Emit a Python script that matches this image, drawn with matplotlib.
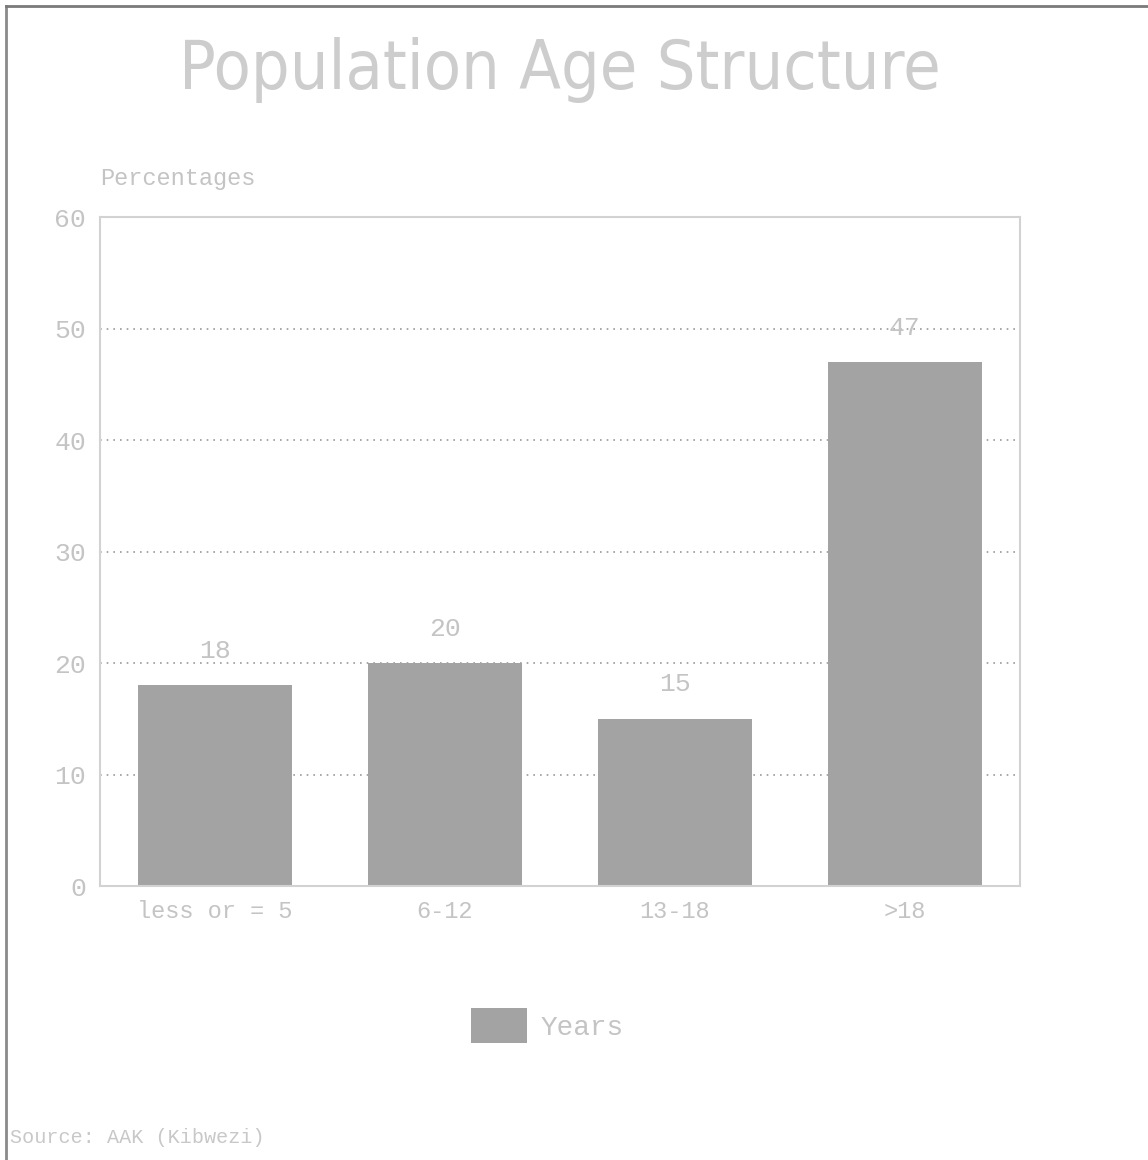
import matplotlib.pyplot as plt
import numpy as np

# age groups and their share of the population (%)
age_groups = ['less or = 5', '6-12', '13-18', '>18']
percentages = [18, 20, 15, 47]
y_ticks = [0, 10, 20, 30, 40, 50, 60]

TEXT = '#c4c4c4'
BAR = '#a3a3a3'
MONO = ['Liberation Mono', 'DejaVu Sans Mono']

fig = plt.figure(figsize=(11.48, 11.6), dpi=100)
ax = fig.add_axes([0.0871, 0.2362, 0.8014, 0.5767])

x = np.arange(len(age_groups))
bars = ax.bar(x, percentages, width=0.67, color=BAR, zorder=2, label='Years')

for xi, v in zip(x, percentages):
    ax.text(xi, v + 2.0, str(v), ha='center', va='bottom',
            fontsize=19, color=TEXT, family=MONO)

ax.set_xlim(-0.5, len(age_groups) - 0.5)
ax.set_ylim(0, 60)
ax.set_yticks(y_ticks)
ax.set_yticklabels([str(t) for t in y_ticks], family=MONO, fontsize=19, color=TEXT)
ax.set_xticks(x)
ax.set_xticklabels(age_groups, family=MONO, fontsize=17, color=TEXT)
ax.tick_params(axis='both', direction='in', length=7, color='#d0d0d0', pad=10)
ax.tick_params(axis='y', length=0, pad=10)

for t in y_ticks[1:-1]:
    ax.axhline(t, color='#9a9a9a', linestyle=(0, (1, 3)), linewidth=1.2, zorder=1)

for s in ax.spines.values():
    s.set_color('#d2d2d2')
    s.set_linewidth(1.5)

ax.text(0, 1.04, 'Percentages', transform=ax.transAxes, ha='left', va='bottom',
        fontsize=17, color=TEXT, family=MONO)

fig.text(0.488, 0.94, 'Population Age Structure', ha='center', va='center',
         fontsize=49, color='#cdcdcd', family=['DejaVu Sans'], stretch='condensed')

leg = fig.legend(handles=[bars], labels=['Years'], loc='center',
                 bbox_to_anchor=(0.477, 0.116), frameon=False,
                 prop={'family': MONO, 'size': 20}, handlelength=2.0,
                 handleheight=1.6, handletextpad=0.5)
for t in leg.get_texts():
    t.set_color(TEXT)

fig.text(0.009, 0.019, 'Source: AAK (Kibwezi)', ha='left', va='center',
         fontsize=14.5, color='#c8c8c8', family=MONO)

# page edges of the scanned sheet
fig.add_artist(plt.Line2D([0.005, 0.005], [0.0, 0.995], color='#8a8a8a', linewidth=2))
fig.add_artist(plt.Line2D([0.005, 1.0], [0.995, 0.995], color='#7a7a7a', linewidth=2))

fig.savefig('out.png', dpi=100)
